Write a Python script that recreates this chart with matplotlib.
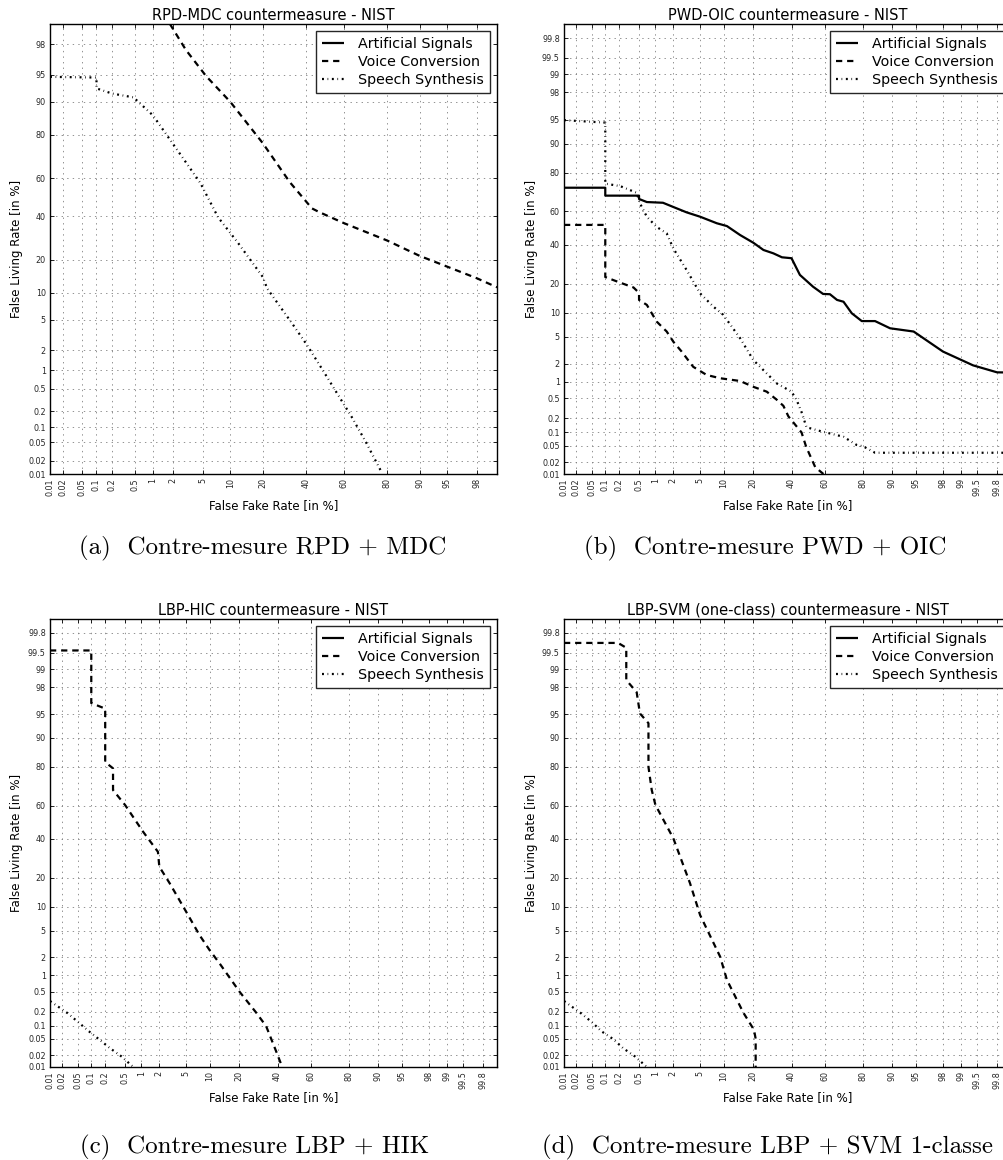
import numpy as np
import matplotlib
matplotlib.use("Agg")
import matplotlib.pyplot as plt
from statistics import NormalDist

plt.rcParams["lines.scale_dashes"] = False
plt.rcParams["axes.unicode_minus"] = False

# ---- DET curves (values in %) : x = False Fake Rate, y = False Living Rate ----
# (a) RPD-MDC
rpd_vc_ffr = [1.8, 3.0, 5.4, 10, 20, 31.7, 43, 47, 60, 80, 90, 98, 99]
rpd_vc_flr = [99, 97.6, 94.8, 90, 76.6, 58, 44, 42, 36.4, 28, 21.5, 13.8, 11.3]
rpd_ss_ffr = [0.01, 0.1, 0.1, 0.2, 0.48, 1.0, 1.7, 3.0, 4.6, 7.4, 12, 20, 21.7,
              32.8, 40.4, 48.4, 56.3, 64, 71, 77.8]
rpd_ss_flr = [94.7, 94.6, 92.8, 91.8, 91, 86.4, 79, 68, 57.5, 39.4, 26.9, 14.2, 11,
              4.5, 2.35, 1.05, 0.43, 0.16, 0.05, 0.011]

# (b) PWD-OIC
pwd_as_ffr = [0.01, 0.1, 0.1, 0.5, 0.5, 0.7, 1.35, 2, 3.2, 5, 8.2, 10.8, 15, 20.2,
              24.8, 29.8, 34.5, 40, 45, 53, 59, 63, 67, 70.5, 74.7, 79.3, 84.6, 89.4,
              94.6, 98, 99.4, 99.8, 99.9]
pwd_as_flr = [73, 73, 68.9, 68.9, 67.1, 65.4, 65, 62.6, 59.5, 56.9, 53, 51.3, 45.9,
              41.3, 37.1, 35.2, 33, 32.5, 24, 18.8, 16, 15.9, 13.9, 13.3, 9.9, 8, 8,
              6.5, 5.9, 3.1, 1.9, 1.46, 1.45]
pwd_vc_ffr = [0.01, 0.1, 0.1, 0.21, 0.39, 0.5, 0.5, 0.7, 1.05, 1.56, 2, 2.7, 4, 6.1,
              9, 15, 20.2, 26.4, 31.7, 35.3, 38.2, 46, 48.8, 54.3, 59.2]
pwd_vc_flr = [52, 52, 23, 20.5, 18.5, 16.4, 13.9, 12.3, 7.9, 5.9, 4.3, 3.1, 1.8, 1.32,
              1.16, 1.04, 0.82, 0.67, 0.47, 0.36, 0.22, 0.1, 0.047, 0.015, 0.01]
pwd_ss_ffr = [0.01, 0.1, 0.1, 0.21, 0.45, 0.52, 0.7, 1.05, 1.56, 2, 3.2, 5, 7.5, 9.8,
              15, 20.2, 26.4, 31.7, 40, 43, 46, 49, 56.2, 64, 70.5, 77, 80, 84.6, 99.9]
pwd_ss_flr = [94.9, 94.5, 75, 73.8, 70.4, 64.7, 56.9, 50.8, 46.9, 38, 26.4, 16.2, 11.7,
              9.5, 4.8, 2.3, 1.4, 0.94, 0.67, 0.47, 0.27, 0.13, 0.11, 0.093, 0.08,
              0.052, 0.048, 0.034, 0.034]

# (c) LBP-HIC
hic_vc_ffr = [0.01, 0.1, 0.1, 0.2, 0.2, 0.29, 0.29, 0.5, 1.07, 1.9, 2, 2.9, 5, 7.5,
              9.9, 12.8, 20.3, 28.2, 33.5, 39.2, 42.8]
hic_vc_flr = [99.55, 99.55, 96.5, 95.8, 82, 79.4, 68.8, 60.4, 44.3, 32.7, 25, 17.7,
              8.7, 4.3, 2.6, 1.6, 0.5, 0.19, 0.097, 0.025, 0.01]
hic_ss_ffr = [0.01, 0.027, 0.05, 0.085, 0.154, 0.25, 0.43, 0.66, 0.72]
hic_ss_flr = [0.33, 0.19, 0.12, 0.077, 0.047, 0.03, 0.0185, 0.011, 0.01]

# (d) LBP-SVM one-class
svm_vc_ffr = [0.01, 0.19, 0.28, 0.28, 0.45, 0.52, 0.75, 0.75, 0.86, 1.0, 2.0, 3.6, 5,
              9, 10.8, 16.2, 20.5, 21.2, 21.2]
svm_vc_flr = [99.68, 99.68, 99.6, 98.47, 97.6, 95.1, 93.4, 80, 68.8, 60.4, 40.4, 17.7,
              7.9, 2.06, 0.83, 0.19, 0.08, 0.05, 0.01]
svm_ss_ffr = [0.01, 0.026, 0.049, 0.083, 0.15, 0.24, 0.42, 0.7]
svm_ss_flr = [0.33, 0.19, 0.12, 0.074, 0.049, 0.03, 0.0185, 0.01]

tick_values = [0.01, 0.02, 0.05, 0.1, 0.2, 0.5, 1, 2, 5, 10, 20, 40, 60, 80, 90, 95,
               98, 99, 99.5, 99.8]
tick_labels = ["0.01", "0.02", "0.05", "0.1", "0.2", "0.5", "1", "2", "5", "10", "20",
               "40", "60", "80", "90", "95", "98", "99", "99.5", "99.8"]

series_names = ["Artificial Signals", "Voice Conversion", "Speech Synthesis"]

# ---- normal-deviate (probit) axis scale ----
_norm = NormalDist()


def _ppf_scalar(p):
    if 0.0 < p < 1.0:
        return _norm.inv_cdf(p)
    return np.nan


_ppf = np.vectorize(_ppf_scalar, otypes=[float])
_cdf = np.vectorize(_norm.cdf, otypes=[float])


def pct_to_probit(v):
    v = np.clip(np.asarray(v, dtype=float) / 100.0, 1e-12, 1 - 1e-12)
    return _ppf(v)


def probit_to_pct(z):
    return _cdf(np.asarray(z, dtype=float)) * 100.0


STYLES = {
    "Artificial Signals": dict(color="k", lw=1.6, ls="-"),
    "Voice Conversion": dict(color="k", lw=1.6, ls=(0, (4.5, 3.5))),
    "Speech Synthesis": dict(color="k", lw=1.6, ls=(0, (1.4, 2.6, 0.5, 2.6))),
}

W, H = 1004, 1160
fig = plt.figure(figsize=(W / 100, H / 100), dpi=100)


def px_axes(left, top, right, bottom):
    return fig.add_axes([left / W, 1 - bottom / H, (right - left) / W, (bottom - top) / H])


def draw_panel(ax, title, curves, upper):
    ax.set_xscale("function", functions=(pct_to_probit, probit_to_pct))
    ax.set_yscale("function", functions=(pct_to_probit, probit_to_pct))
    for name in series_names:
        xs, ys = curves.get(name, ([], []))
        ax.plot(xs, ys, label=name, solid_capstyle="butt", dash_capstyle="butt", **STYLES[name])
    ax.set_xlim(0.01, upper)
    ax.set_ylim(0.01, upper)
    keep = [i for i, t in enumerate(tick_values) if t < upper - 1e-9]
    ax.set_xticks([tick_values[i] for i in keep])
    ax.set_xticklabels([tick_labels[i] for i in keep], rotation=90)
    ax.set_yticks([tick_values[i] for i in keep])
    ax.set_yticklabels([tick_labels[i] for i in keep])
    ax.minorticks_off()
    ax.tick_params(direction="in", length=3, width=0.6, top=True, right=True,
                   labelsize=5.8, pad=3, colors="k", labelcolor="0.15")
    ax.grid(True, ls=(0, (1, 3)), color="0.5", lw=0.6)
    for sp in ax.spines.values():
        sp.set_linewidth(1.0)
    ax.set_title(title, fontsize=10.5, pad=3)
    leg = ax.legend(loc="upper right", fontsize=10.3, fancybox=False, framealpha=1,
                    edgecolor="0.15", borderpad=0.4, labelspacing=0.3,
                    handlelength=1.55, handletextpad=1.0, borderaxespad=0.5)
    leg.get_frame().set_linewidth(1.0)


panels = [
    dict(box=(50, 24, 497, 474), upper=99.0, title="RPD-MDC countermeasure - NIST",
         curves={"Voice Conversion": (rpd_vc_ffr, rpd_vc_flr),
                 "Speech Synthesis": (rpd_ss_ffr, rpd_ss_flr)},
         ylab=(17, 249), xlab=(273.5, 506), cap=(263, 548),
         caption="(a)  Contre-mesure RPD + MDC"),
    dict(box=(564, 24, 1011, 474), upper=99.9, title="PWD-OIC countermeasure - NIST",
         curves={"Artificial Signals": (pwd_as_ffr, pwd_as_flr),
                 "Voice Conversion": (pwd_vc_ffr, pwd_vc_flr),
                 "Speech Synthesis": (pwd_ss_ffr, pwd_ss_flr)},
         ylab=(531.5, 249), xlab=(787.5, 506), cap=(765, 548),
         caption="(b)  Contre-mesure PWD + OIC"),
    dict(box=(50, 619, 497, 1067), upper=99.9, title="LBP-HIC countermeasure - NIST",
         curves={"Voice Conversion": (hic_vc_ffr, hic_vc_flr),
                 "Speech Synthesis": (hic_ss_ffr, hic_ss_flr)},
         ylab=(17, 843), xlab=(274, 1098), cap=(255, 1147),
         caption="(c)  Contre-mesure LBP + HIK"),
    dict(box=(564, 619, 1011, 1067), upper=99.9,
         title="LBP-SVM (one-class) countermeasure - NIST",
         curves={"Voice Conversion": (svm_vc_ffr, svm_vc_flr),
                 "Speech Synthesis": (svm_ss_ffr, svm_ss_flr)},
         ylab=(531.5, 843), xlab=(787.5, 1098), cap=(768, 1147),
         caption="(d)  Contre-mesure LBP + SVM 1-classe"),
]

for p in panels:
    ax = px_axes(*p["box"])
    draw_panel(ax, p["title"], p["curves"], p["upper"])
    fig.text(p["ylab"][0] / W, 1 - p["ylab"][1] / H, "False Living Rate [in %]",
             rotation=90, ha="center", va="center", fontsize=8.5)
    fig.text(p["xlab"][0] / W, 1 - p["xlab"][1] / H, "False Fake Rate [in %]",
             ha="center", va="center", fontsize=8.5)
    fig.text(p["cap"][0] / W, 1 - p["cap"][1] / H, p["caption"],
             ha="center", va="center", fontsize=18, family="cmr10")

fig.savefig("out.png", dpi=100)
